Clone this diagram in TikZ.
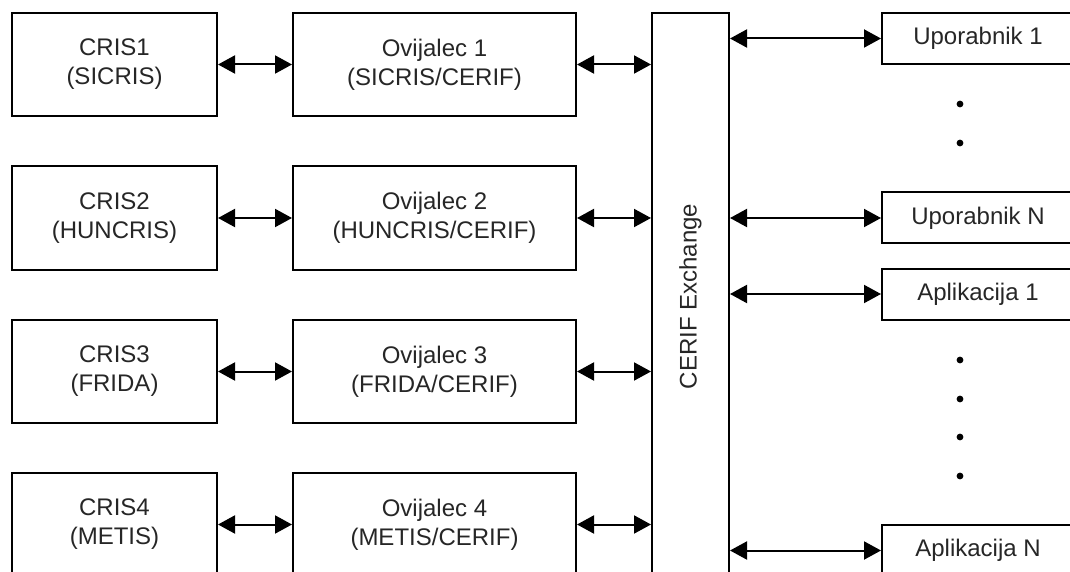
\documentclass[tikz,border=0pt]{standalone}
\usepackage{fontspec}
\setmainfont{Liberation Sans}
\usetikzlibrary{arrows.meta}

\begin{document}
\begin{tikzpicture}[x=0.5pt, y=-0.5pt,
    every node/.style={font=\fontsize{12}{14.5}\selectfont, text=black!85},
    crisbox/.style={draw=black, line width=1pt, minimum width=102.5pt,
      minimum height=51.5pt, align=center},
    ovibox/.style={crisbox, minimum width=141.5pt},
    userbox/.style={draw=black, line width=1pt, minimum width=96pt,
      minimum height=25.5pt},
    link/.style={line width=1pt,
      {Triangle[length=8.5pt,width=9pt]}-{Triangle[length=8.5pt,width=9pt]}}]
    \useasboundingbox (0,0) rectangle (1070,572);
    \node[crisbox] (cris1) at (114.5, 64.5) {CRIS1\\(SICRIS)};
    \node[crisbox] (cris2) at (114.5, 218) {CRIS2\\(HUNCRIS)};
    \node[crisbox] (cris3) at (114.5, 371.5) {CRIS3\\(FRIDA)};
    \node[crisbox] (cris4) at (114.5, 524.5) {CRIS4\\(METIS)};
    \node[ovibox] (ovi1) at (434.5, 64.5) {Ovijalec 1\\(SICRIS/CERIF)};
    \node[ovibox] (ovi2) at (434.5, 218) {Ovijalec 2\\(HUNCRIS/CERIF)};
    \node[ovibox] (ovi3) at (434.5, 371.5) {Ovijalec 3\\(FRIDA/CERIF)};
    \node[ovibox] (ovi4) at (434.5, 524.5) {Ovijalec 4\\(METIS/CERIF)};
    \node[draw=black, line width=1pt, minimum width=38.5pt,
      minimum height=283.5pt,
      label={[rotate=90]center:CERIF Exchange}] (exch) at (690.5, 296.5) {};
    \node[userbox] (usr1) at (978, 38.5) {Uporabnik 1};
    \node[userbox] (usrn) at (978, 218) {Uporabnik N};
    \node[userbox] (app1) at (978, 294) {Aplikacija 1};
    \node[userbox] (appn) at (978, 550.5) {Aplikacija N};
    \draw[link] (cris1.east) -- (ovi1.west);
    \draw[link] (cris2.east) -- (ovi2.west);
    \draw[link] (cris3.east) -- (ovi3.west);
    \draw[link] (cris4.east) -- (ovi4.west);
    \draw[link] (ovi1.east) -- (ovi1.east -| exch.west);
    \draw[link] (ovi2.east) -- (ovi2.east -| exch.west);
    \draw[link] (ovi3.east) -- (ovi3.east -| exch.west);
    \draw[link] (ovi4.east) -- (ovi4.east -| exch.west);
    \draw[link] (exch.east |- usr1.west) -- (usr1.west);
    \draw[link] (exch.east |- usrn.west) -- (usrn.west);
    \draw[link] (exch.east |- app1.west) -- (app1.west);
    \draw[link] (exch.east |- appn.west) -- (appn.west);
    \fill (960, 104) circle (1.7pt);
    \fill (960, 143) circle (1.7pt);
    \fill (960, 360) circle (1.7pt);
    \fill (960, 399) circle (1.7pt);
    \fill (960, 437) circle (1.7pt);
    \fill (960, 476) circle (1.7pt);
  \end{tikzpicture}
\end{document}
